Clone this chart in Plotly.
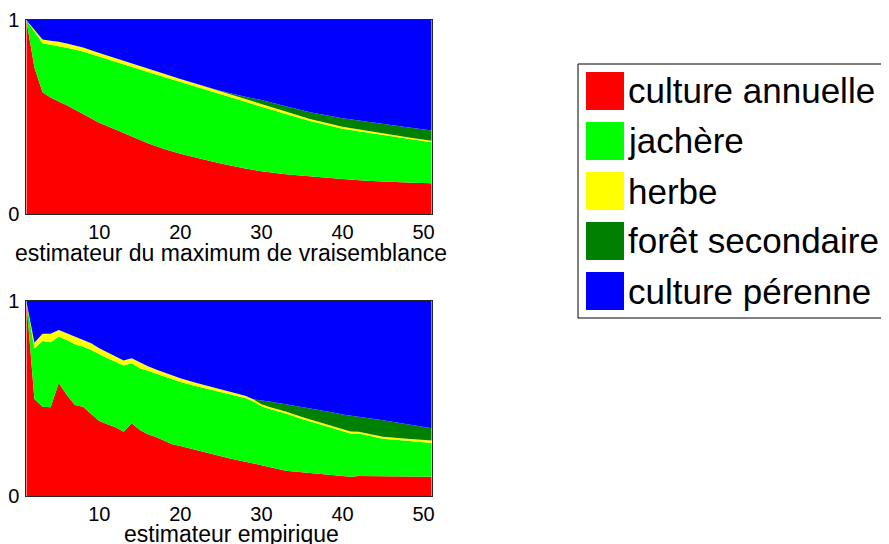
import plotly.graph_objects as go

# categories (legend order, bottom of the stack first)
categories = ["culture annuelle", "jachère", "herbe", "forêt secondaire", "culture pérenne"]
colors = ["#FF0000", "#00FF00", "#FFFF00", "#008000", "#0000FF"]

# --- top panel: estimateur du maximum de vraisemblance ---
ml_x = [1, 2, 3, 4, 5, 6, 8, 10, 12, 14, 16, 18, 20, 22, 25, 28, 30, 33, 36, 40, 43, 46, 48, 51]
ml_annuelle = [1.0, 0.755, 0.628, 0.60, 0.58, 0.56, 0.515, 0.47, 0.435, 0.40, 0.365, 0.335,
               0.31, 0.29, 0.26, 0.235, 0.22, 0.205, 0.193, 0.18, 0.172, 0.165, 0.162, 0.158]
ml_jachere = [0.0, 0.185, 0.252, 0.272, 0.286, 0.297, 0.322, 0.34, 0.35, 0.358, 0.367, 0.371,
              0.37, 0.365, 0.357, 0.343, 0.333, 0.31, 0.287, 0.26, 0.248, 0.235, 0.226, 0.212]
ml_herbe = [0.0, 0.012, 0.02, 0.021, 0.022, 0.022, 0.021, 0.02, 0.019, 0.018, 0.018, 0.017,
            0.016, 0.015, 0.013, 0.012, 0.012, 0.011, 0.010, 0.010, 0.009, 0.009, 0.008, 0.008]
ml_foret = [0.0, 0, 0, 0, 0, 0, 0, 0, 0, 0, 0, 0,
            0, 0, 0.004, 0.014, 0.022, 0.029, 0.035, 0.043, 0.046, 0.049, 0.051, 0.053]
ml_perenne = [0.0, 0.048, 0.10, 0.107, 0.112, 0.121, 0.142, 0.17, 0.196, 0.224, 0.25, 0.277,
              0.304, 0.33, 0.366, 0.396, 0.413, 0.445, 0.475, 0.507, 0.525, 0.542, 0.553, 0.569]

# --- bottom panel: estimateur empirique ---
emp_x = [1, 2, 3, 4, 5, 6, 7, 8, 9, 10, 11, 12, 13, 14, 15, 16, 17, 18, 19, 20,
         22, 24, 26, 28, 29, 30, 31, 33, 35, 37, 39, 40, 41, 42, 45, 48, 51]
emp_annuelle = [1.0, 0.497, 0.458, 0.455, 0.580, 0.518, 0.467, 0.458, 0.420, 0.385,
                0.368, 0.352, 0.330, 0.373, 0.339, 0.317, 0.303, 0.283, 0.265, 0.256,
                0.235, 0.213, 0.193, 0.176, 0.167, 0.157, 0.148, 0.130, 0.122, 0.115,
                0.107, 0.102, 0.099, 0.103, 0.102, 0.101, 0.099]
emp_jachere = [0.0, 0.260, 0.337, 0.333, 0.237, 0.282, 0.311, 0.308, 0.329, 0.342,
               0.338, 0.337, 0.339, 0.308, 0.316, 0.325, 0.324, 0.329, 0.333, 0.329,
               0.328, 0.330, 0.329, 0.326, 0.318, 0.303, 0.298, 0.293, 0.273, 0.255,
               0.238, 0.228, 0.222, 0.217, 0.192, 0.182, 0.173]
emp_herbe = [0.0, 0.029, 0.037, 0.044, 0.034, 0.034, 0.036, 0.034, 0.034, 0.031,
             0.031, 0.026, 0.026, 0.025, 0.029, 0.024, 0.022, 0.021, 0.020, 0.019,
             0.017, 0.016, 0.014, 0.012, 0.011, 0.010, 0.010, 0.010, 0.010, 0.010,
             0.010, 0.010, 0.010, 0.009, 0.010, 0.010, 0.012]
emp_foret = [0.0, 0, 0, 0, 0, 0, 0, 0, 0, 0,
             0, 0, 0, 0, 0, 0, 0, 0, 0, 0,
             0, 0, 0, 0, 0, 0.021, 0.028, 0.038, 0.052, 0.063,
             0.072, 0.078, 0.081, 0.079, 0.084, 0.075, 0.063]
emp_perenne = [0.0, 0.214, 0.168, 0.168, 0.149, 0.166, 0.186, 0.200, 0.217, 0.242,
               0.263, 0.285, 0.305, 0.294, 0.316, 0.334, 0.351, 0.367, 0.382, 0.396,
               0.420, 0.441, 0.464, 0.486, 0.504, 0.509, 0.516, 0.529, 0.543, 0.557,
               0.573, 0.582, 0.588, 0.592, 0.612, 0.632, 0.653]

x_ticks = [10, 20, 30, 40, 50]
y_ticks = [0, 1]

# the page body adds an 8px margin, so the figure is drawn 8px in from the corner
OFF = 8
W, H = 889 - OFF, 544 - OFF
FONT = "Liberation Sans, Arial, Helvetica, sans-serif"


def px(x):
    return (x - OFF) / W


def py(y):
    return 1 - (y - OFF) / H


fig = go.Figure()

panels = [
    ("ml", ml_x, [ml_annuelle, ml_jachere, ml_herbe, ml_foret, ml_perenne], "x", "y"),
    ("emp", emp_x, [emp_annuelle, emp_jachere, emp_herbe, emp_foret, emp_perenne], "x2", "y2"),
]
for group, xs, series, xa, ya in panels:
    for name, color, ys in zip(categories, colors, series):
        fig.add_trace(go.Scatter(
            x=xs, y=ys, name=name,
            mode="lines", stackgroup=group,
            line=dict(width=0, color=color),
            fillcolor=color,
            showlegend=False,
            xaxis=xa, yaxis=ya,
            hovertemplate=name + "<br>%{x}: %{y:.3f}<extra></extra>",
        ))

x_dom = [px(26.3), px(431.7)]
axis_common = dict(
    showgrid=False, zeroline=False,
    showline=True, mirror=True, linecolor="#262626", linewidth=1,
    ticks="outside", tickcolor="rgba(0,0,0,0)",
    tickfont=dict(size=20, color="black"),
    automargin=False,
)

fig.update_layout(
    width=W, height=H,
    margin=dict(l=0, r=0, t=0, b=0),
    paper_bgcolor="white", plot_bgcolor="white",
    font=dict(family=FONT, color="black"),
    showlegend=False,
    xaxis=dict(domain=x_dom, range=[1, 51], tickvals=x_ticks, anchor="y",
               ticklen=0, **axis_common),
    yaxis=dict(domain=[py(214), py(20)], range=[0, 1], tickvals=y_ticks,
               anchor="x", ticklen=2, **axis_common),
    xaxis2=dict(domain=x_dom, range=[1, 51], tickvals=x_ticks, anchor="y2",
                ticklen=0, **axis_common),
    yaxis2=dict(domain=[py(496), py(301)], range=[0, 1], tickvals=y_ticks,
                anchor="x2", ticklen=2, **axis_common),
)

# axis titles
for text, yc in [("estimateur du maximum de vraisemblance", 253),
                 ("estimateur empirique", 534)]:
    fig.add_annotation(xref="paper", yref="paper", x=px(231), y=py(yc),
                       text=text, showarrow=False, xanchor="center", yanchor="middle",
                       font=dict(size=23, color="black", family=FONT))

# legend box drawn by hand to get the large square swatches
fig.add_shape(type="rect", xref="paper", yref="paper",
              x0=px(578), x1=px(888), y0=py(318), y1=py(64),
              line=dict(color="black", width=1), fillcolor="white", layer="above")
for i, (name, color) in enumerate(zip(categories, colors)):
    top = 72 + 50 * i
    fig.add_shape(type="rect", xref="paper", yref="paper",
                  x0=px(586), x1=px(624), y0=py(top + 38), y1=py(top),
                  line=dict(width=0), fillcolor=color, layer="above")
    fig.add_annotation(xref="paper", yref="paper", x=px(626), y=py(top + 19),
                       text=name, showarrow=False, xanchor="left", yanchor="middle",
                       font=dict(size=35, color="black", family=FONT))

fig.write_html("out.html")
